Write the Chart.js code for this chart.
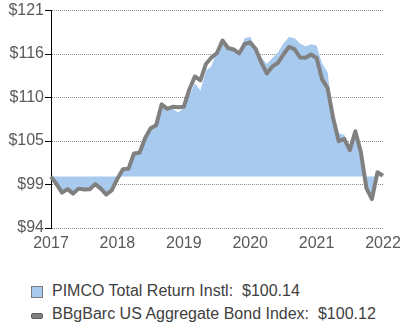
<!DOCTYPE html>
<html>
<head>
<meta charset="utf-8">
<script src="https://cdn.jsdelivr.net/npm/chart.js@4"></script>
<style>
  body { margin: 0; background: #fff; font-family: Arial, "Liberation Sans", sans-serif; }
  #wrap { position: relative; width: 412px; height: 328px; }
  #chartBox { position: absolute; left: 0; top: 0; width: 412px; height: 256px; }
  .legend-row { position: absolute; left: 0; font-size: 16px; line-height: 19px; color: #404040; white-space: pre; }
  .legend-row span.txt { position: absolute; left: 52px; top: 0; }
  .swatch { position: absolute; left: 31px; box-sizing: border-box; }
</style>
</head>
<body>
<div id="wrap">
  <div id="chartBox"><canvas id="growthChart"></canvas></div>
  <div id="legend"></div>
</div>
<script>
// ----------- Data -----------
const years = [2017, 2018, 2019, 2020, 2021, 2022];
const seriesNames = ["PIMCO Total Return Instl", "BBgBarc US Aggregate Bond Index"];

// month-end value of $100, Jan 2017 .. Jan 2022
const pimco = [
  100.0, 99.1, 98.05, 98.5, 97.95, 98.55, 98.45, 98.5, 99.1, 98.55, 97.8, 98.35,
  99.6, 100.85, 100.9, 102.8, 103.0, 104.9, 106.0, 106.5, 108.8, 108.3, 108.6, 108.1,
  108.7, 110.3, 111.8, 110.9, 113.4, 114.0, 116.0, 117.45, 116.3, 116.2, 115.8, 117.5,
  117.7, 116.2, 115.1, 114.25, 115.0, 115.7, 116.85, 117.65, 117.5, 116.85, 116.5, 116.75,
  116.6, 114.3, 113.2, 107.3, 105.5, 105.3, 103.5, 105.6, 103.0, 98.7, 97.2, 100.4, 100.14
];
const bbgbarc = [
  100.0, 99.05, 97.98, 98.42, 97.85, 98.48, 98.38, 98.4, 99.05, 98.48, 97.73, 98.29,
  99.74, 100.94, 101.0, 102.92, 103.02, 104.85, 106.11, 106.49, 109.14, 108.57, 108.83, 108.76,
  108.83, 111.03, 112.67, 112.17, 114.25, 115.07, 115.64, 117.22, 116.27, 116.08, 115.58, 116.77,
  116.96, 116.14, 114.44, 113.05, 113.94, 114.38, 115.45, 116.4, 116.14, 115.07, 115.03, 115.45,
  115.01, 112.3, 111.16, 107.38, 104.47, 104.79, 103.34, 105.74, 103.09, 98.55, 97.16, 100.56, 100.12
];

const yMin = 93.5, yMax = 121, yStep = 5.5;
const baseValue = 100;

const blueFill = "#a9caef";
const grayLine = "#808080";

// monthly category labels, year shown on each January
const months = [];
years.forEach((y, i) => {
    const count = i === years.length - 1 ? 1 : 12;
    for (let m = 0; m < count; m++) months.push(y + "-" + String(m + 1).padStart(2, "0"));
});

const font = { family: 'Arial, "Liberation Sans", sans-serif', size: 16 };

// ----------- Chart -----------
new Chart(document.getElementById("growthChart"), {
    type: "line",
    data: {
        labels: months,
        datasets: [
            {
                label: seriesNames[1],
                data: bbgbarc,
                borderColor: grayLine,
                borderWidth: 4,
                borderJoinStyle: "round",
                pointRadius: 0,
                tension: 0,
                fill: false,
                order: 0
            },
            {
                label: seriesNames[0],
                data: pimco,
                borderWidth: 0,
                borderColor: "rgba(0,0,0,0)",
                backgroundColor: blueFill,
                pointRadius: 0,
                tension: 0,
                fill: { value: baseValue },
                order: 1
            }
        ]
    },
    options: {
        responsive: true,
        maintainAspectRatio: false,
        animation: false,
        layout: { padding: { top: 10, right: 29, left: 0, bottom: 0 } },
        plugins: { legend: { display: false }, tooltip: { enabled: false } },
        scales: {
            x: {
                grid: { display: false, drawTicks: false },
                border: { display: false },
                afterFit: s => { s.height = 28; },
                ticks: {
                    autoSkip: false,
                    maxRotation: 0,
                    padding: 6,
                    color: "#595959",
                    font: font,
                    callback: function (v, i) {
                        const lab = this.getLabelForValue(v);
                        return lab.endsWith("-01") ? lab.slice(0, 4) : null;
                    }
                }
            },
            y: {
                min: yMin,
                max: yMax,
                afterFit: s => { s.width = 51; },
                grid: { color: "#8a8a8a", tickColor: "#000", tickLength: 6, lineWidth: 1 },
                border: { display: true, color: "#000", width: 1, dash: [1, 1] },
                ticks: {
                    stepSize: yStep,
                    padding: 1,
                    color: "#595959",
                    font: font,
                    callback: v => "$" + Math.round(v)
                }
            }
        }
    }
});

// ----------- Legend -----------
const legend = document.getElementById("legend");
const rows = [
    { name: seriesNames[0], last: pimco[pimco.length - 1], top: 281, swatch: "box" },
    { name: seriesNames[1], last: bbgbarc[bbgbarc.length - 1], top: 304, swatch: "bar" }
];
rows.forEach(r => {
    const row = document.createElement("div");
    row.className = "legend-row";
    row.style.top = r.top + "px";
    const sw = document.createElement("div");
    sw.className = "swatch";
    if (r.swatch === "box") {
        Object.assign(sw.style, { top: "5px", width: "12px", height: "12px", background: blueFill, border: "1px solid #7a7a7a" });
    } else {
        Object.assign(sw.style, { top: "9px", width: "12px", height: "6px", background: grayLine, border: "1px solid #5e5e5e", borderRadius: "2px" });
    }
    const txt = document.createElement("span");
    txt.className = "txt";
    txt.textContent = r.name + ":  $" + r.last.toFixed(2);
    row.appendChild(sw);
    row.appendChild(txt);
    legend.appendChild(row);
});
</script>
</body>
</html>
